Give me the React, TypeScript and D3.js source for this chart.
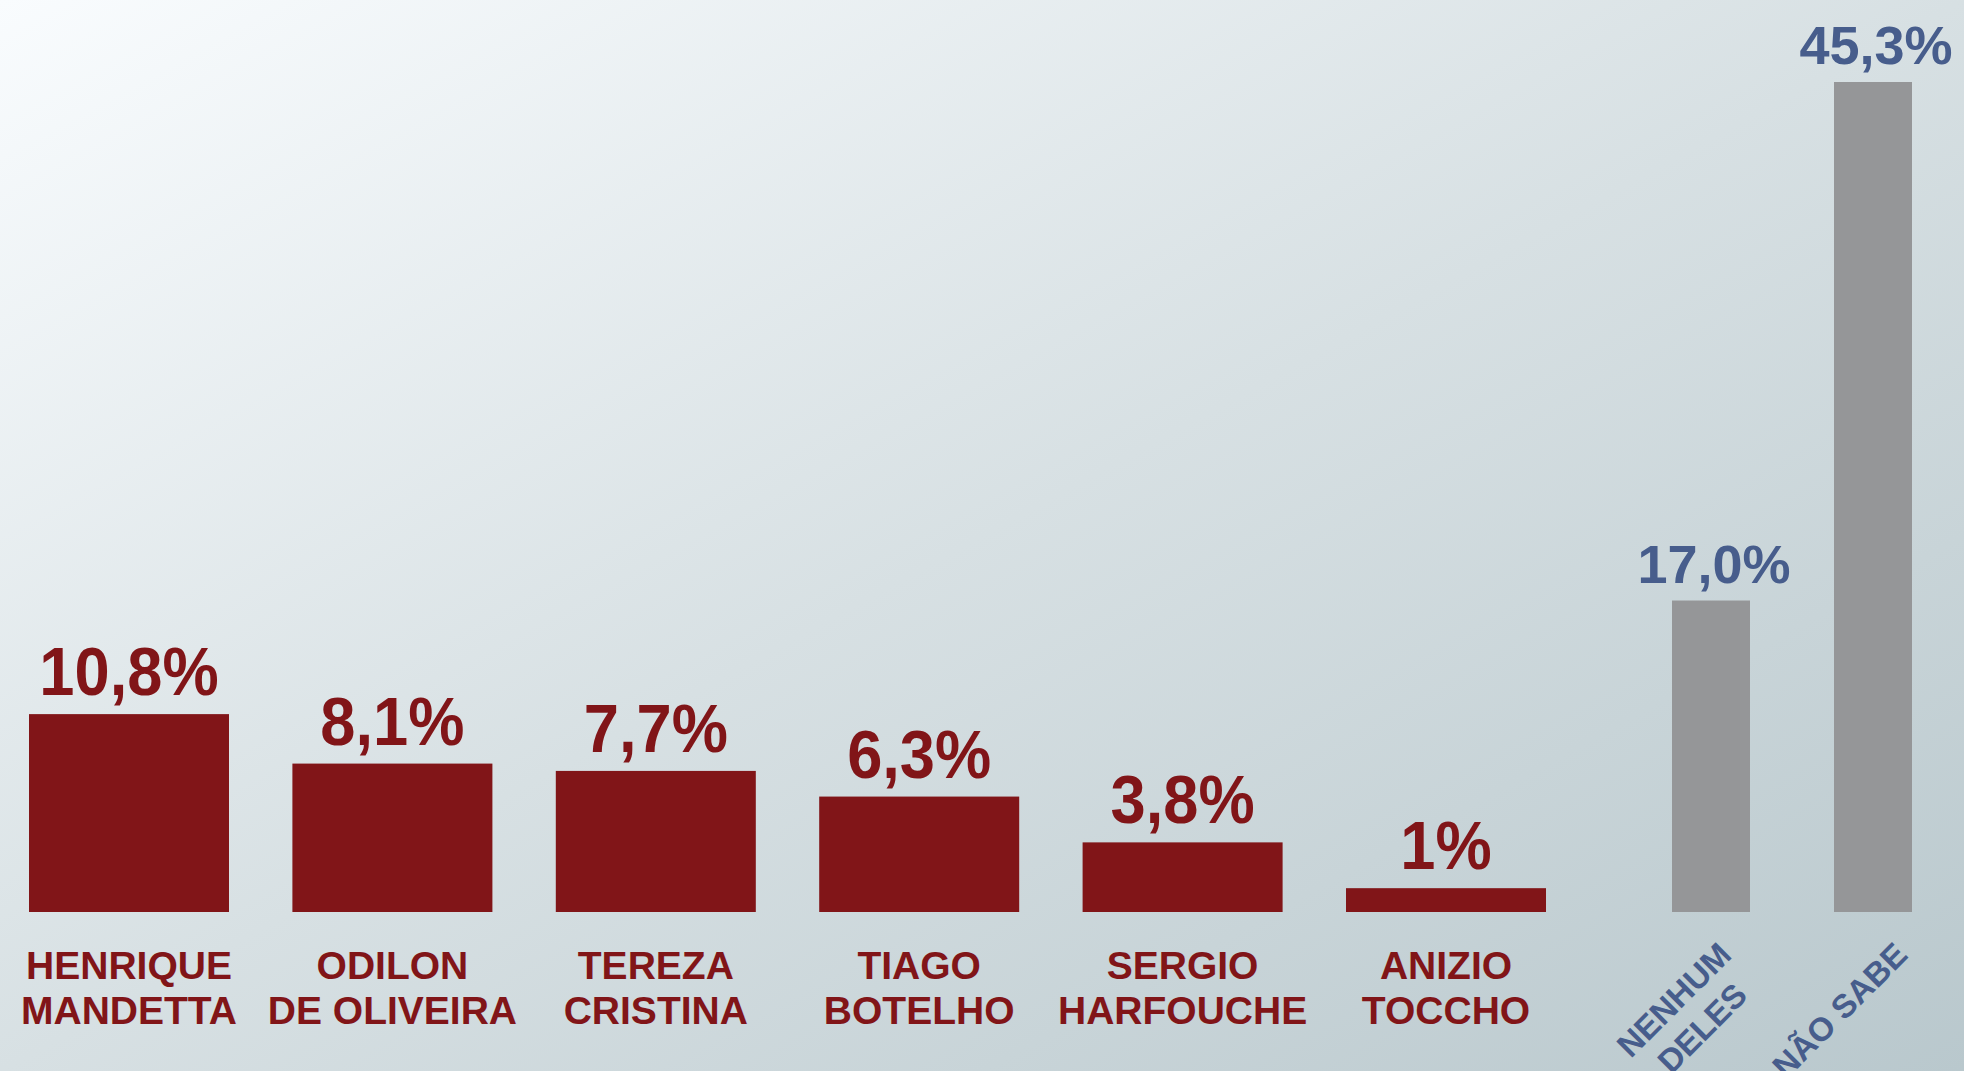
import React from "react";
import * as d3 from "d3";

const candidateLabels: string[][] = [
  ["HENRIQUE", "MANDETTA"],
  ["ODILON", "DE OLIVEIRA"],
  ["TEREZA", "CRISTINA"],
  ["TIAGO", "BOTELHO"],
  ["SERGIO", "HARFOUCHE"],
  ["ANIZIO", "TOCCHO"],
];
const candidateValues: number[] = [10.8, 8.1, 7.7, 6.3, 3.8, 1.3];
const candidateValueLabels: string[] = ["10,8%", "8,1%", "7,7%", "6,3%", "3,8%", "1%"];

const otherLabels: string[][] = [["NENHUM", "DELES"], ["NÃO SABE"]];
const otherValues: number[] = [17.0, 45.3];
const otherValueLabels: string[] = ["17,0%", "45,3%"];

const W = 1964;
const H = 1071;
const FONT = "'Liberation Sans', Arial, Helvetica, sans-serif";
const RED = "#811518";
const BLUE = "#475d8c";
const GRAY = "#959698";

function measure(text: string, size: number): number {
  const c = document.createElement("canvas");
  const ctx = c.getContext("2d");
  if (!ctx) return text.length * size * 0.65;
  ctx.font = `bold ${size}px ${FONT}`;
  return ctx.measureText(text).width;
}

export default function App() {
  const baseline = 912;
  const y = d3.scaleLinear().domain([0, d3.max(otherValues) as number]).range([baseline, 82]);

  const candKeys = candidateLabels.map((l) => l.join(" "));
  const otherKeys = otherLabels.map((l) => l.join(" "));

  const xRed = d3.scaleBand<string>().domain(candKeys).range([29, 1546]).paddingInner(0.2407).paddingOuter(0);
  const xGray = d3.scaleBand<string>().domain(otherKeys).range([1672, 1912]).paddingInner(0.5185).paddingOuter(0);

  const rotSize = 33;
  const rotLine = 40;
  const cap = rotSize * 0.716;
  const c45 = Math.SQRT1_2;

  return (
    <svg
      width={W}
      height={H}
      viewBox={`0 0 ${W} ${H}`}
      style={{ position: "absolute", left: 0, top: 0, display: "block" }}
      fontFamily={FONT}
    >
      <defs>
        <linearGradient id="bg" x1="0" y1="0" x2="1" y2="1">
          <stop offset="0" stopColor="#f9fcfe" />
          <stop offset="0.5" stopColor="#d7e0e3" />
          <stop offset="1" stopColor="#b9c8cd" />
        </linearGradient>
      </defs>
      <rect x={0} y={0} width={W} height={H} fill="url(#bg)" />

      {candKeys.map((k, i) => {
        const x0 = xRed(k) as number;
        const bw = xRed.bandwidth();
        const cx = x0 + bw / 2;
        const top = y(candidateValues[i]);
        return (
          <g key={k}>
            <rect x={x0} y={top} width={bw} height={baseline - top} fill={RED} />
            <text
              transform={`translate(${cx},${top - 19}) scale(0.93,1)`}
              textAnchor="middle"
              fontSize={68}
              fontWeight="bold"
              fill={RED}
            >
              {candidateValueLabels[i]}
            </text>
            {candidateLabels[i].map((line, j) => (
              <text
                key={j}
                x={cx}
                y={979 + j * 45}
                textAnchor="middle"
                fontSize={39}
                fontWeight="bold"
                fill={RED}
              >
                {line}
              </text>
            ))}
          </g>
        );
      })}

      {otherKeys.map((k, i) => {
        const x0 = xGray(k) as number;
        const bw = xGray.bandwidth();
        const cx = x0 + bw / 2;
        const top = y(otherValues[i]);
        const lines = otherLabels[i];
        const wMax = Math.max(...lines.map((l) => measure(l, rotSize)));
        const hBlock = cap + (lines.length - 1) * rotLine;
        const gx = cx + 28 - (c45 * wMax) / 2;
        const gy = 940 + (c45 * (wMax + hBlock)) / 2;
        return (
          <g key={k}>
            <rect x={x0} y={top} width={bw} height={baseline - top} fill={GRAY} />
            <text x={cx + 3} y={top - 18} textAnchor="middle" fontSize={54} fontWeight="bold" fill={BLUE}>
              {otherValueLabels[i]}
            </text>
            <g transform={`translate(${gx},${gy}) rotate(-45)`}>
              {lines.map((line, j) => (
                <text
                  key={j}
                  x={0}
                  y={-hBlock / 2 + cap + j * rotLine}
                  textAnchor="middle"
                  fontSize={rotSize}
                  fontWeight="bold"
                  fill={BLUE}
                >
                  {line}
                </text>
              ))}
            </g>
          </g>
        );
      })}
    </svg>
  );
}
